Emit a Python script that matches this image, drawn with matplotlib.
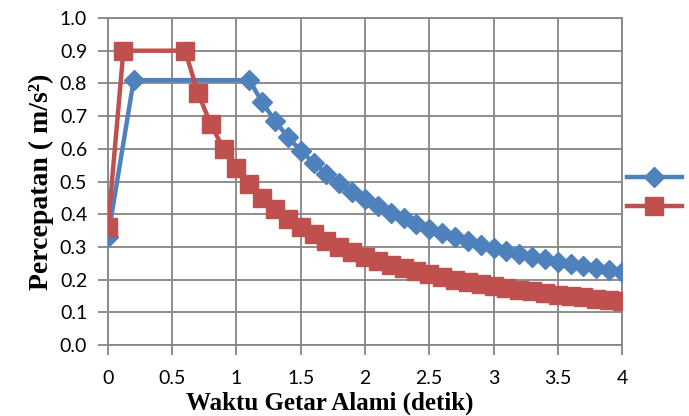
import matplotlib.pyplot as plt

# Datos: periodo (detik) y percepatan (m/s2)
t_biru = [0, 0.2, 1.1, 1.2, 1.3, 1.4, 1.5, 1.6, 1.7, 1.8, 1.9, 2.0,
          2.1, 2.2, 2.3, 2.4, 2.5, 2.6, 2.7, 2.8, 2.9, 3.0,
          3.1, 3.2, 3.3, 3.4, 3.5, 3.6, 3.7, 3.8, 3.9, 4.0]
sa_biru = [0.33, 0.81, 0.81, 0.743, 0.685, 0.636, 0.594, 0.557, 0.524, 0.495, 0.469, 0.446,
           0.424, 0.405, 0.387, 0.371, 0.356, 0.343, 0.330, 0.318, 0.307, 0.297,
           0.287, 0.278, 0.270, 0.262, 0.255, 0.248, 0.241, 0.234, 0.228, 0.223]

t_merah = [0, 0.12, 0.6, 0.7, 0.8, 0.9, 1.0, 1.1, 1.2, 1.3, 1.4, 1.5, 1.6, 1.7, 1.8, 1.9, 2.0,
           2.1, 2.2, 2.3, 2.4, 2.5, 2.6, 2.7, 2.8, 2.9, 3.0,
           3.1, 3.2, 3.3, 3.4, 3.5, 3.6, 3.7, 3.8, 3.9, 4.0]
sa_merah = [0.36, 0.90, 0.90, 0.771, 0.675, 0.600, 0.540, 0.491, 0.450, 0.415, 0.386, 0.360,
            0.338, 0.318, 0.300, 0.284, 0.270,
            0.257, 0.245, 0.235, 0.225, 0.216, 0.208, 0.200, 0.193, 0.186, 0.180,
            0.174, 0.169, 0.164, 0.159, 0.154, 0.150, 0.146, 0.142, 0.138, 0.135]

xticks = [0, 0.5, 1, 1.5, 2, 2.5, 3, 3.5, 4]
xtick_labels = ['0', '0.5', '1', '1.5', '2', '2.5', '3', '3.5', '4']
yticks = [0.0, 0.1, 0.2, 0.3, 0.4, 0.5, 0.6, 0.7, 0.8, 0.9, 1.0]

biru = '#4F81BD'
merah = '#C0504D'
grid = '#868686'

fig = plt.figure(figsize=(6.89, 4.16), dpi=100)
ax = fig.add_axes([0.1567, 0.1707, 0.7461, 0.786])

ax.plot(t_biru, sa_biru, color=biru, lw=3.2, marker='D', ms=10, mec=biru, label=' ', zorder=3)
ax.plot(t_merah, sa_merah, color=merah, lw=3.2, marker='s', ms=13, mec=merah, label=' ', zorder=4)

ax.set_xlim(0, 4)
ax.set_ylim(0, 1.0)
ax.set_xticks(xticks)
ax.set_xticklabels(xtick_labels)
ax.set_yticks(yticks)
ax.set_yticklabels([f'{v:.1f}' for v in yticks])
ax.grid(True, color=grid, lw=1.3)
ax.set_axisbelow(True)
for s in ax.spines.values():
    s.set_color(grid)
    s.set_linewidth(1.3)
ax.tick_params(axis='both', colors=grid, width=1.3, length=7, labelcolor='black',
               labelsize=14, pad=8)
ax.tick_params(axis='x', pad=11)
for lbl in ax.get_xticklabels() + ax.get_yticklabels():
    lbl.set_family('Lato')

ax.set_xlabel('Waktu Getar Alami (detik)', family='Liberation Serif', weight='bold',
              fontsize=18)
ax.xaxis.set_label_coords(0.432, -0.142)
ax.set_ylabel('Percepatan ( m/s²)', family='Liberation Serif', weight='bold',
              fontsize=20, labelpad=4)

fig.legend(loc='center left', bbox_to_anchor=(0.896, 0.537), frameon=False,
           fontsize=14, handlelength=2.8, labelspacing=0.5, borderpad=0,
           handletextpad=0.3)

fig.savefig('out.png', dpi=100)
